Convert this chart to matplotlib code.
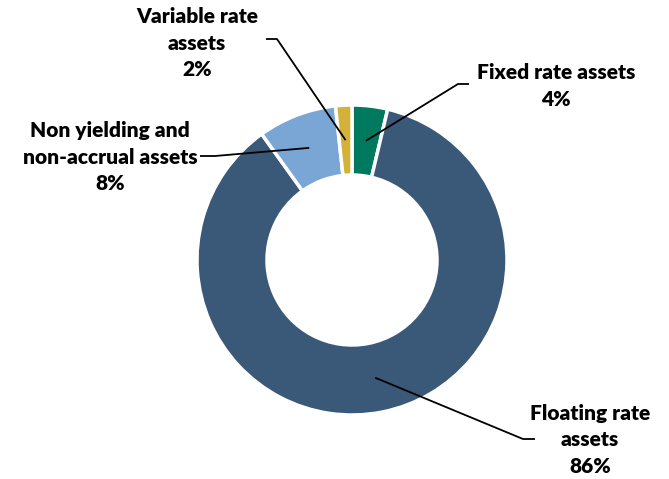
import numpy as np
import matplotlib.pyplot as plt

# asset mix (share of portfolio, %)
labels = ["Fixed rate assets", "Floating rate\nassets", "Non yielding and\nnon-accrual assets", "Variable rate\nassets"]
values = [3.7, 86.4, 8.2, 1.7]
pct_labels = ["4%", "86%", "8%", "2%"]
colors = ["#007A5E", "#3A5878", "#7AA6D5", "#D4B23A"]

W, H = 669, 479
fig = plt.figure(figsize=(W / 100, H / 100), dpi=100)
ax = fig.add_axes([0, 0, 1, 1])

def px(x, y):
    # image pixel (top-left origin) -> data coords
    return x, H - y

cx, cy = px(352, 260)
r_out, ring = 155, 70
wedges, _ = ax.pie(values, colors=colors, startangle=90, counterclock=False,
                   center=(cx, cy), radius=r_out, frame=True,
                   wedgeprops=dict(width=ring, edgecolor="white", linewidth=2.5))
ax.set_xlim(0, W)
ax.set_ylim(0, H)
ax.set_aspect("equal")
ax.axis("off")

# label text position (center of block) and leader elbow + end, image pixels
text_pos = [(556, 86), (590, 440), (110, 157), (197, 43)]
leaders = [[(458, 84), (469, 84)],
           [(523, 439), (535, 439)],
           [(215, 156), (200, 156)],
           [(277, 39), (266, 39)]]

font = ["Lato", "DejaVu Sans"]
r_mid = r_out - ring / 2
for w, lab, pct, tp, pts in zip(wedges, labels, pct_labels, text_pos, leaders):
    ang = np.deg2rad((w.theta1 + w.theta2) / 2)
    start = (cx + r_mid * np.cos(ang), cy + r_mid * np.sin(ang))
    pts = [px(*p) for p in pts]
    xs = [start[0]] + [p[0] for p in pts]
    ys = [start[1]] + [p[1] for p in pts]
    ax.plot(xs, ys, color="black", lw=1.3, solid_capstyle="butt")
    tx, ty = px(*tp)
    ax.text(tx, ty, lab + "\n" + pct, ha="center", va="center",
            fontsize=15, fontweight="heavy", family=font, linespacing=1.45)

fig.savefig("out.png", dpi=100)
